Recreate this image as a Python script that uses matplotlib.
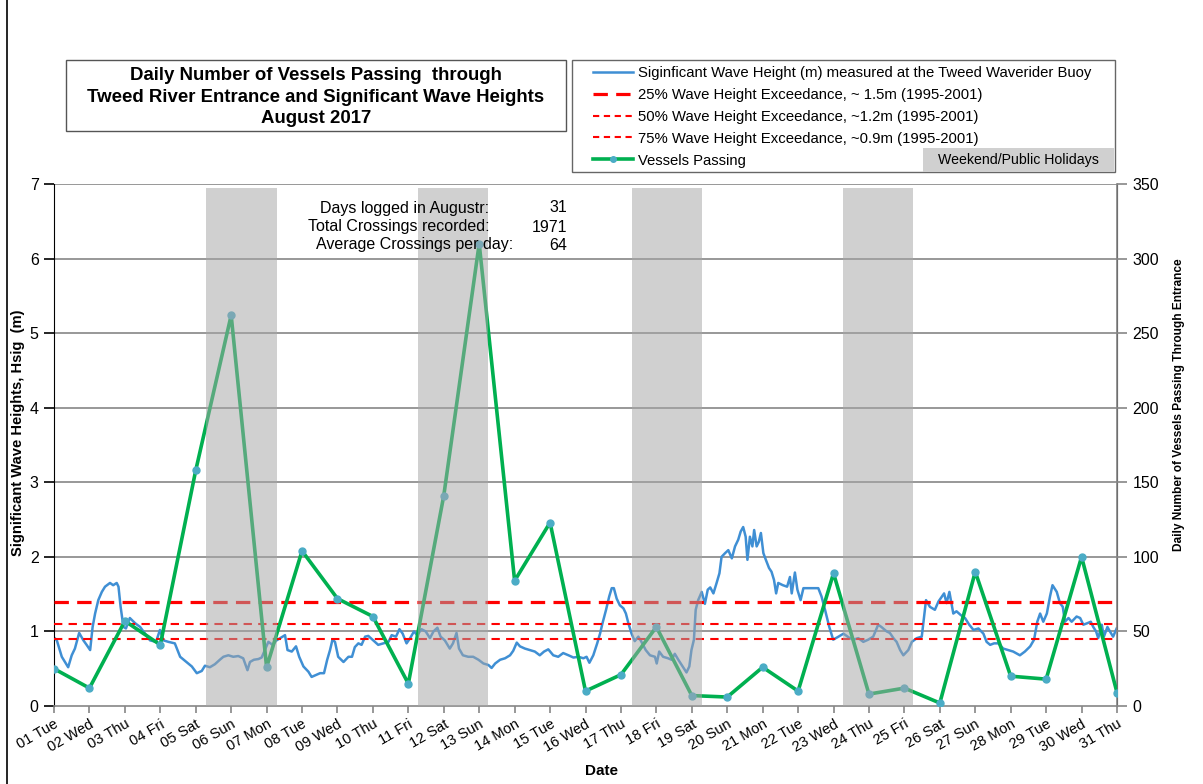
import numpy as np
import matplotlib.pyplot as plt
from matplotlib.lines import Line2D
from matplotlib.patches import Rectangle

plt.rcParams['font.family'] = ['Liberation Sans', 'DejaVu Sans']

# ---- data ----
day_labels = ['01 Tue', '02 Wed', '03 Thu', '04 Fri', '05 Sat', '06 Sun', '07 Mon',
              '08 Tue', '09 Wed', '10 Thu', '11 Fri', '12 Sat', '13 Sun', '14 Mon',
              '15 Tue', '16 Wed', '17 Thu', '18 Fri', '19 Sat', '20 Sun', '21 Mon',
              '22 Tue', '23 Wed', '24 Thu', '25 Fri', '26 Sat', '27 Sun', '28 Mon',
              '29 Tue', '30 Wed', '31 Thu']

vessels = [25, 12, 57, 41, 158, 262, 26, 104, 72, 60, 15, 141, 310, 84, 123, 10,
           21, 53, 7, 6, 26, 10, 89, 8, 12, 2, 90, 20, 18, 100, 9]

# wave record (time in days from 01 Aug, Hsig in m)
wave_t = [0.00, 0.08, 0.22, 0.40, 0.50, 0.59, 0.71, 0.83, 0.92, 1.02, 1.09, 1.16, 1.25,
          1.35, 1.44, 1.58, 1.67, 1.77, 1.82, 1.88, 1.96, 2.03, 2.14, 2.29, 2.43, 2.57,
          2.71, 2.88, 2.99, 3.09, 3.23, 3.41, 3.56, 3.74, 3.89, 4.03, 4.17, 4.26, 4.40,
          4.54, 4.68, 4.78, 4.92, 5.06, 5.20, 5.34, 5.46, 5.53, 5.64, 5.77, 5.86, 5.95,
          6.05, 6.17, 6.28, 6.42, 6.52, 6.59, 6.71, 6.83, 6.92, 7.04, 7.18, 7.27, 7.41,
          7.51, 7.62, 7.71, 7.79, 7.86, 7.93, 8.02, 8.17, 8.31, 8.41, 8.49, 8.59, 8.68,
          8.78, 8.87, 9.01, 9.15, 9.29, 9.44, 9.53, 9.65, 9.75, 9.84, 9.95, 10.05, 10.16,
          10.25, 10.37, 10.49, 10.61, 10.71, 10.82, 10.91, 11.03, 11.17, 11.26, 11.36,
          11.43, 11.54, 11.69, 11.83, 11.98, 12.12, 12.26, 12.35, 12.45, 12.59, 12.73,
          12.87, 12.96, 13.06, 13.15, 13.29, 13.43, 13.57, 13.71, 13.83, 13.95, 14.09,
          14.23, 14.37, 14.52, 14.66, 14.80, 14.94, 15.03, 15.11, 15.22, 15.33, 15.41,
          15.48, 15.58, 15.67, 15.74, 15.80, 15.88, 15.97, 16.07, 16.14, 16.21, 16.30,
          16.39, 16.49, 16.58, 16.70, 16.82, 16.96, 17.01, 17.08, 17.19, 17.33, 17.43,
          17.52, 17.62, 17.74, 17.85, 17.93, 17.99, 18.06, 18.11, 18.18, 18.28, 18.37,
          18.45, 18.52, 18.61, 18.70, 18.78, 18.84, 18.94, 19.03, 19.13, 19.22, 19.31,
          19.38, 19.45, 19.52, 19.57, 19.64, 19.71, 19.76, 19.83, 19.89, 19.95, 20.02,
          20.09, 20.18, 20.25, 20.32, 20.38, 20.44, 20.57, 20.69, 20.77, 20.82, 20.91,
          20.98, 21.07, 21.15, 21.33, 21.57, 21.66, 21.76, 21.88, 21.99, 22.14, 22.28,
          22.46, 22.56, 22.70, 22.84, 22.98, 23.12, 23.26, 23.35, 23.50, 23.59, 23.69,
          23.78, 23.88, 23.97, 24.11, 24.21, 24.35, 24.49, 24.61, 24.72, 24.86, 24.96,
          25.12, 25.19, 25.27, 25.38, 25.47, 25.59, 25.71, 25.83, 25.95, 26.09, 26.23,
          26.32, 26.42, 26.53, 26.65, 26.79, 26.93, 27.07, 27.26, 27.40, 27.55, 27.66,
          27.75, 27.83, 27.92, 28.02, 28.11, 28.18, 28.30, 28.39, 28.47, 28.53, 28.63,
          28.72, 28.86, 28.96, 29.05, 29.16, 29.26, 29.33, 29.41, 29.47, 29.57, 29.63,
          29.73, 29.80, 29.89, 29.99]
wave_h = [0.92, 0.88, 0.66, 0.52, 0.68, 0.77, 0.98, 0.88, 0.82, 0.75, 1.06, 1.24, 1.42,
          1.53, 1.60, 1.65, 1.62, 1.65, 1.60, 1.33, 1.06, 1.04, 1.18, 1.11, 1.06, 0.97,
          0.88, 0.86, 1.02, 0.88, 0.86, 0.84, 0.66, 0.59, 0.53, 0.44, 0.47, 0.54, 0.52,
          0.56, 0.62, 0.66, 0.68, 0.66, 0.67, 0.64, 0.48, 0.59, 0.62, 0.63, 0.65, 0.75,
          0.86, 0.82, 0.88, 0.92, 0.95, 0.75, 0.73, 0.80, 0.66, 0.53, 0.46, 0.39, 0.42,
          0.44, 0.44, 0.62, 0.75, 0.89, 0.86, 0.66, 0.59, 0.66, 0.66, 0.79, 0.84, 0.82,
          0.93, 0.94, 0.88, 0.82, 0.84, 0.86, 0.95, 0.93, 1.03, 0.97, 0.84, 0.91, 1.00,
          0.95, 1.03, 1.00, 0.91, 1.00, 1.05, 0.93, 0.88, 0.77, 0.84, 0.98,
          0.77, 0.68, 0.66, 0.66, 0.62, 0.57, 0.55, 0.51, 0.57, 0.62, 0.64,
          0.68, 0.74, 0.85, 0.80, 0.77, 0.75, 0.73, 0.68, 0.73, 0.76, 0.68,
          0.66, 0.71, 0.68, 0.65, 0.66, 0.64, 0.66, 0.58, 0.68, 0.84, 0.97,
          1.11, 1.29, 1.47, 1.58, 1.58, 1.44, 1.35, 1.31, 1.24, 1.11, 0.97,
          0.87, 0.93, 0.86, 0.75, 0.68, 0.66, 0.57, 0.73, 0.66, 0.64, 0.62,
          0.70, 0.62, 0.53, 0.45, 0.53, 0.75, 0.89, 1.29, 1.42, 1.53, 1.37,
          1.56, 1.59, 1.51, 1.65, 1.78, 2.00, 2.05, 2.09, 1.98, 2.14, 2.23,
          2.34, 2.40, 2.27, 1.96, 2.27, 2.14, 2.36, 2.14, 2.20, 2.32, 2.05,
          1.96, 1.85, 1.80, 1.69, 1.51, 1.65, 1.62, 1.60, 1.73, 1.51, 1.79,
          1.56, 1.42, 1.58, 1.58, 1.58, 1.47, 1.29, 1.06, 0.89, 0.93, 0.97,
          0.91, 0.89, 0.91, 0.86, 0.89, 0.93, 1.09, 1.06, 1.00, 0.98, 0.91,
          0.86, 0.75, 0.68, 0.75, 0.86, 0.91, 0.93, 1.42, 1.33, 1.29, 1.40,
          1.51, 1.38, 1.53, 1.24, 1.27, 1.22, 1.18, 1.09, 1.02, 1.04, 0.97,
          0.86, 0.82, 0.84, 0.84, 0.77, 0.75, 0.73, 0.68, 0.73, 0.80, 0.89,
          1.13, 1.24, 1.13, 1.24, 1.47, 1.62, 1.53, 1.38, 1.33, 1.13, 1.18,
          1.13, 1.20, 1.18, 1.09, 1.11, 1.13, 1.06, 1.00, 0.91, 1.09, 0.93,
          1.06, 1.00, 0.93, 1.04]

exceed_25 = 1.4
exceed_50 = 1.1
exceed_75 = 0.9

shade_start = [4.28, 10.27, 16.30, 22.27]
shade_end = [6.29, 12.25, 18.29, 24.24]

days = np.arange(len(day_labels))

# ---- figure ----
W, H = 1203, 784
fig = plt.figure(figsize=(W / 100, H / 100), dpi=100)
ax = fig.add_axes([54 / W, 1 - 706 / H, (1117 - 54) / W, (706 - 184) / H])
ax2 = ax.twinx()

grey = '#868686'
blue = '#3f8fd4'
red = '#ff0000'
green = '#00b050'
mark = '#4bacc6'

ax.set_xlim(0, 30)
ax.set_ylim(0, 7)
ax2.set_ylim(0, 350)
ax.set_yticks(range(0, 8))
ax2.set_yticks(range(0, 351, 50))
for y in range(1, 8):
    ax.axhline(y, color=grey, lw=1.2, zorder=1)

ax.plot(wave_t, wave_h, color=blue, lw=1.8, zorder=2)
ax.axhline(exceed_25, color=red, lw=2.3, dashes=(4.5, 2.6), zorder=3)
ax.axhline(exceed_50, color=red, lw=1.5, dashes=(4, 3), zorder=3)
ax.axhline(exceed_75, color=red, lw=1.5, dashes=(4, 3), zorder=3)

ax2.plot(days, vessels, color=green, lw=2.6, marker='o', markersize=5,
         markerfacecolor=mark, markeredgecolor=mark, zorder=3)
# weekend / public holiday shading sits over the lines
for s0, s1 in zip(shade_start, shade_end):
    ax2.axvspan(s0, s1, ymin=0, ymax=6.95 / 7, color='#a6a6a6', alpha=0.52,
                lw=0, zorder=5)

ax.set_xticks(days)
ax.set_xticklabels(day_labels, rotation=30, ha='right', va='top',
                   rotation_mode='anchor', fontsize=10.5)
ax.tick_params(axis='x', colors=grey, labelcolor='black', length=5, width=1.2, pad=3)
ax.tick_params(axis='y', length=7, width=1.2, labelsize=11.5, colors='black', pad=4)
ax2.tick_params(axis='y', length=7, width=1.2, labelsize=11.5, colors=grey,
                labelcolor='black', pad=4)
ax.spines['top'].set_visible(False)
ax2.spines['top'].set_visible(False)
ax2.spines['left'].set_visible(False)
ax2.spines['bottom'].set_visible(False)
ax2.spines['right'].set_color(grey)
ax2.spines['right'].set_linewidth(1.2)
ax.spines['bottom'].set_color(grey)
ax.spines['bottom'].set_linewidth(1.2)

fig.text(18 / W, 1 - 433 / H, 'Significant Wave Heights, Hsig  (m)', rotation=90,
         ha='center', va='center', fontsize=10.6, fontweight='bold')
fig.text(1179 / W, 1 - 405 / H, 'Daily Number of Vessels Passing Through Entrance',
         rotation=90, ha='center', va='center', fontsize=8.6, fontweight='bold')
fig.text(602 / W, 1 - 771 / H, 'Date', ha='center', va='center', fontsize=11,
         fontweight='bold')

# title box
fig.patches.append(Rectangle((66 / W, 1 - 131 / H), 500 / W, 71 / H,
                             transform=fig.transFigure, fill=False, ec='#555555', lw=1))
fig.text(316 / W, 1 - 97 / H,
         'Daily Number of Vessels Passing  through\n'
         'Tweed River Entrance and Significant Wave Heights\nAugust 2017',
         ha='center', va='center', fontsize=13.4, fontweight='bold', linespacing=1.38)

# summary
fs = 11.5
fig.text(489 / W, 1 - 208 / H, 'Days logged in Augustr:', ha='right', va='center', fontsize=fs)
fig.text(490 / W, 1 - 227 / H, 'Total Crossings recorded:', ha='right', va='center', fontsize=fs)
fig.text(513 / W, 1 - 245 / H, 'Average Crossings per day:', ha='right', va='center', fontsize=fs)
fig.text(567 / W, 1 - 208 / H, '31', ha='right', va='center', fontsize=fs)
fig.text(567 / W, 1 - 227 / H, '1971', ha='right', va='center', fontsize=fs)
fig.text(567 / W, 1 - 245 / H, '64', ha='right', va='center', fontsize=fs)

# legend
fig.patches.append(Rectangle((572 / W, 1 - 172 / H), 543 / W, 112 / H,
                             transform=fig.transFigure, fill=False, ec='#666666', lw=1))
fig.patches.append(Rectangle((923 / W, 1 - 172 / H), 191 / W, 24 / H,
                             transform=fig.transFigure, fc='#d0d0d0', ec='none'))
fig.text(1018 / W, 1 - 160 / H, 'Weekend/Public Holidays', ha='center', va='center',
         fontsize=10.2)
handles = [
    Line2D([], [], color=blue, lw=1.8),
    Line2D([], [], color=red, lw=2.3, dashes=(4.5, 2.6)),
    Line2D([], [], color=red, lw=1.5, dashes=(3, 2.2)),
    Line2D([], [], color=red, lw=1.5, dashes=(3, 2.2)),
    Line2D([], [], color=green, lw=2.6, marker='o', markersize=4,
           markerfacecolor=mark, markeredgecolor=mark),
]
labels = ['Siginficant Wave Height (m) measured at the Tweed Waverider Buoy',
          '25% Wave Height Exceedance, ~ 1.5m (1995-2001)',
          '50% Wave Height Exceedance, ~1.2m (1995-2001)',
          '75% Wave Height Exceedance, ~0.9m (1995-2001)',
          'Vessels Passing']
fig.legend(handles, labels, loc='upper left', bbox_to_anchor=(593 / W, 1 - 66 / H),
           frameon=False, fontsize=10.7, handlelength=2.7, handletextpad=0.33,
           labelspacing=0.53, borderpad=0, borderaxespad=0)

fig.add_artist(Line2D([7 / W, 7 / W], [0, 1], color='black', lw=1.2))

fig.savefig('out.png', dpi=100)
